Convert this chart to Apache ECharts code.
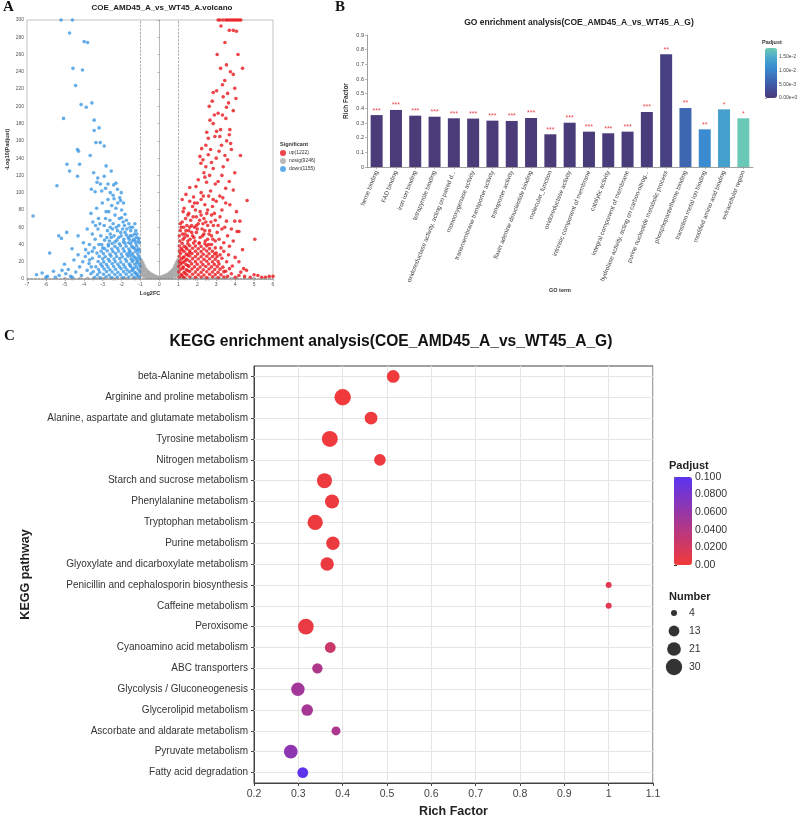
<!DOCTYPE html>
<html>
<head>
<meta charset="utf-8">
<script src="https://cdn.jsdelivr.net/npm/echarts@6/dist/echarts.min.js"></script>
<style>html,body{margin:0;padding:0;background:#fff}#main{width:801px;height:823px}</style>
</head>
<body>
<div id="main"></div>
<script>
// ---- A: volcano points [log2FC, -log10(padj)] ----
var volcanoUp = [
  [3.1,300],[3.2,300],[3.35,300],[3.5,300],[3.6,300],[3.7,300],[3.8,300],[3.9,300],[4.0,300],[4.1,300],[4.2,300],[4.3,300],
  [3.25,293],[3.69,288],[3.9,288],[4.07,287],[3.46,274],[3.23,244],[3.54,248],[4.39,244],[3.9,237],[3.33,225],[3.98,221],
  [3.02,218],[2.84,216],[3.37,211],[4.04,209],[2.79,206],[2.63,200],[3.65,204],[3.54,199],[3.1,192],[3.33,190],[3.9,195],
  [2.67,184],[2.84,180],[3.51,186],[3.02,171],[3.23,173],[3.72,173],[2.58,163],[2.93,165],[3.19,165],[3.69,167],[2.23,151],
  [3.28,155],[3.76,157],[2.14,142],[2.58,144],[3.46,143],[4.28,143],[2.19,134],[2.35,123],[2.84,128],[3.37,130],[3.6,138],
  [1.93,107],[2.49,112],[3.1,113],[3.98,123],[4.63,91],[3.69,113],[3.9,103],[4.07,78],[5.04,46],[3.98,67],[3.54,67],
  [4.25,67],[4.39,34],[3.72,86],[3.19,96],[2.84,92],[2.3,138],[2.45,130],[2.7,150],[3.0,140],[3.15,148],[2.4,118],
  [2.65,120],[2.95,110],[3.3,120],[3.5,105],[2.2,100],[2.05,115],[2.75,135],[3.55,160],[2.5,170],[3.8,150],[3.45,230],
  [3.05,260],[2.9,190],[3.6,215],[4.15,260],[3.75,240],[2.45,155],
  [1.4,98],[1.6,90],[1.8,95],[2.0,88],[2.2,92],[2.4,86],[2.6,96],[2.8,84],[3.0,90],[3.3,80],[3.5,88],[1.3,82],[1.55,76],
  [1.75,84],[1.95,72],[2.15,78],[2.35,70],[2.55,80],[2.75,74],[2.95,68],[3.2,72],[3.45,60],[3.8,58],[4.1,55],[4.2,55],
  [1.2,66],[1.45,62],[1.65,68],[1.85,60],[2.05,64],[2.25,58],[2.45,66],[2.65,56],[2.85,62],[3.05,54],[3.3,58],[3.6,50],
  [3.9,44],[1.1,56],[1.35,52],[1.55,56],[1.75,50],[1.95,54],[2.15,48],[2.35,52],[2.55,46],[2.75,50],[2.95,44],[3.15,46],
  [3.4,42],[3.7,38],[4.0,25],[4.2,20],[3.85,15],[4.45,12],[1.25,46],[1.5,44],[2.1,42],[2.6,40],[3.25,36],[1.15,60],
  [1.7,62],[2.3,64],[2.9,76],[3.35,94],[1.9,80],[2.7,102],[1.6,106],[2.5,76],
  [1.08,44],[1.32,48],[1.62,46],[1.88,44],[2.42,44],[2.82,46],[1.22,52],[1.48,50],[1.82,48],[2.28,50],[2.62,52],[1.05,50],
  [1.4,56],[1.7,54],[2.0,58],[2.4,56],[1.28,60],[1.6,60],[1.95,62],[2.55,62],[1.1,64],[1.38,70],[1.78,72],[2.12,68],
  [1.5,74],[2.2,74],[1.25,78],[1.85,88],[2.32,96],[1.2,92],[2.72,66],[3.1,62],[3.0,30],[3.2,28],[3.3,24],[3.4,32],
  [2.95,36],[2.75,40],
  [1.04,2.1],[1.3,1.7],[1.6,2.4],[1.9,1.9],[2.2,2.2],[2.5,1.6],[2.8,2.5],[3.1,1.8],[3.4,2.2],
  [1.15,5.2],[1.45,4.8],[1.75,5.5],[2.05,5.0],[2.35,4.7],[2.65,5.4],[2.95,5.1],[3.25,4.9],
  [1.03,8.2],[1.3,7.8],[1.6,8.6],[1.9,8.0],[2.2,7.7],[2.5,8.4],[2.8,8.1],[3.1,7.9],[3.4,8.5],
  [1.12,11.3],[1.42,10.8],[1.72,11.6],[2.02,11.1],[2.32,10.7],[2.62,11.5],[2.92,11.0],[3.2,11.4],
  [1.02,14.4],[1.25,13.9],[1.55,14.6],[1.85,14.1],[2.15,13.8],[2.45,14.5],[2.75,14.0],[3.05,14.3],[3.35,13.7],
  [1.1,17.2],[1.4,16.8],[1.7,17.5],[2.0,17.0],[2.3,16.6],[2.6,17.4],[2.9,16.9],[3.15,17.3],
  [1.05,20.4],[1.3,19.8],[1.6,20.6],[1.9,20.1],[2.2,19.7],[2.5,20.5],[2.8,20.0],[3.1,20.3],
  [1.15,23.3],[1.45,22.8],[1.75,23.6],[2.05,23.1],[2.35,22.7],[2.65,23.4],[2.95,23.0],
  [1.04,26.3],[1.3,25.8],[1.6,26.6],[1.9,26.1],[2.2,25.7],[2.5,26.4],[2.8,26.0],[3.05,26.2],
  [1.12,29.4],[1.42,28.8],[1.72,29.6],[2.02,29.1],[2.32,28.7],[2.62,29.3],[2.92,29.0],
  [1.05,32.3],[1.3,31.8],[1.6,32.6],[1.9,32.1],[2.2,31.7],[2.5,32.4],[2.8,32.0],
  [1.15,35.3],[1.45,34.8],[1.75,35.6],[2.05,35.1],[2.35,34.7],[2.65,35.2],
  [1.05,38.3],[1.3,37.8],[1.6,38.6],[1.9,38.1],[2.2,37.7],[2.5,38.4],
  [1.2,41.3],[1.5,40.8],[1.8,41.6],[2.1,41.1],[2.4,40.7],
  [1.2,3.6],[1.35,6.5],[1.5,9.6],[1.25,12.6],[1.5,15.7],[1.2,18.7],[1.4,21.7],[1.25,24.6],[1.5,27.6],[1.6,30.6],[1.2,33.6],[1.4,36.6],
  [3.6,3],[3.8,6],[4.0,2],[4.2,4],[4.5,3],[4.8,2],[5.0,5],[5.2,4],[5.4,2],[5.6,2],[5.8,3],[6.0,3],[4.6,10],[4.3,8],[3.7,12],
  [3.55,20],[3.65,28],[3.5,9]
];
var volcanoDown = [
  [-5.2,300],[-4.6,300],[-4.75,285],[-3.98,275],[-3.8,274],[-4.57,244],[-4.07,242],[-4.43,224],[-4.14,202],[-3.87,199],
  [-3.57,204],[-5.07,186],[-3.45,184],[-3.19,175],[-3.45,172],[-3.36,158],[-3.13,158],[-2.92,154],[-4.33,150],[-4.28,148],
  [-3.66,143],[-4.89,133],[-4.22,133],[-2.82,131],[-4.75,125],[-4.33,119],[-3.48,123],[-3.26,117],[-2.92,119],[-2.55,125],
  [-5.42,108],[-3.3,112],[-3.12,110],[-2.72,110],[-2.42,109],[-2.3,111],[-2.02,100],[-2.22,104],[-3.6,104],[-3.4,101],
  [-2.85,105],[-2.6,100],[-3.05,102],[-2.45,97],[-2.1,94],[-1.9,88],
  [-6.68,73],[-5.32,50],[-5.18,47],[-4.9,54],[-4.62,35],[-4.3,50],[-4.02,42],[-3.82,58],[-3.62,76],[-3.52,66],[-3.32,82],
  [-3.22,70],[-3.02,88],[-2.92,62],[-2.82,78],[-2.72,92],[-2.62,68],[-2.52,85],[-2.4,93],[-2.35,74],[-2.28,60],[-2.2,88],
  [-2.12,70],[-2.0,80],[-1.92,66],[-1.82,75],[-1.72,58],[-1.62,64],[-1.52,56],[-1.42,60],[-1.32,52],[-1.22,48],[-1.12,44],
  [-2.6,52],[-2.9,45],[-3.1,50],[-3.4,46],[-3.7,40],[-2.22,56],[-2.02,50],[-1.82,54],[-2.45,64],[-2.75,56],[-3.25,58],
  [-2.05,91],[-2.15,62],[-1.95,58],[-2.55,48],[-1.65,48],[-1.45,44],[-2.85,70],[-3.55,52],[-2.35,43],[-2.65,44],[-1.75,68],
  [-2.3,82],[-2.68,78],[-3.15,64],[-1.55,50],[-1.25,56],[-1.88,46],[-2.48,58],[-3.05,40],[-3.38,62],[-2.0,71],[-1.35,46],
  [-1.06,42],[-2.78,48],[-2.15,48],[-1.62,42],
  [-1.1,47],[-1.3,44],[-1.6,46],[-1.9,43],[-2.25,45],[-1.45,50],[-1.75,51],[-2.05,54],[-1.2,52],[-1.55,60],[-2.4,50],
  [-2.7,40],[-3.0,36],[-3.3,30],[-3.45,36],[-3.2,40],[-3.6,14],[-3.7,22],[-3.55,32],[-1.3,64],[-1.85,62],[-2.6,60],
  [-6.5,5],[-6.2,7],[-5.92,3],[-5.8,30],[-5.6,9],[-5.3,4],[-5.02,17],[-4.82,11],[-4.7,3],[-4.52,22],[-4.42,8],[-4.22,14],
  [-4.12,4],[-3.92,26],[-3.82,10],[-3.72,18],[-3.62,6],[-3.9,34],[-4.6,2],[-5.5,2],[-4.95,6],[-4.3,28],[-3.75,30],[-4.05,20],
  [-3.55,24],[-6.0,2],[-5.15,10],
  [-3.42,2],[-3.12,1.5],[-2.82,2.5],[-2.52,1.8],[-2.22,2.2],[-1.92,1.6],[-1.62,2.4],[-1.32,1.9],[-1.06,2.1],
  [-3.28,5],[-2.96,5.5],[-2.66,4.6],[-2.36,5.2],[-2.06,4.8],[-1.76,5.6],[-1.46,4.9],[-1.18,5.3],
  [-3.5,8.4],[-3.16,7.8],[-2.8,8.6],[-2.5,8.1],[-2.2,7.7],[-1.9,8.5],[-1.6,8.2],[-1.3,7.9],[-1.04,8.3],
  [-3.22,11],[-2.92,11.6],[-2.62,10.8],[-2.32,11.3],[-2.02,11.8],[-1.72,10.6],[-1.42,11.4],[-1.12,11.1],
  [-3.36,14.2],[-3.02,14.6],[-2.72,13.8],[-2.42,14.4],[-2.12,14.1],[-1.82,13.7],[-1.52,14.5],[-1.22,14.0],[-1.03,14.8],
  [-3.1,17.2],[-2.8,16.8],[-2.5,17.6],[-2.2,17.1],[-1.9,16.7],[-1.6,17.4],[-1.3,17.0],[-1.08,17.5],
  [-3.24,20.3],[-2.94,19.8],[-2.64,20.6],[-2.34,20.1],[-2.04,19.6],[-1.74,20.4],[-1.44,20.0],[-1.16,20.5],
  [-3.0,23.4],[-2.7,22.8],[-2.4,23.2],[-2.1,23.6],[-1.8,22.9],[-1.5,23.3],[-1.2,22.7],[-1.03,23.5],
  [-3.18,26.2],[-2.86,25.8],[-2.56,26.5],[-2.26,26.0],[-1.96,25.7],[-1.66,26.4],[-1.36,26.1],[-1.1,25.9],
  [-2.96,29.3],[-2.62,28.7],[-2.32,29.5],[-2.02,29.0],[-1.72,28.8],[-1.42,29.4],[-1.14,29.1],
  [-3.08,32.1],[-2.76,32.6],[-2.46,31.8],[-2.16,32.3],[-1.86,32.0],[-1.56,32.5],[-1.26,31.9],[-1.05,32.4],
  [-2.9,35.2],[-2.52,34.8],[-2.22,35.5],[-1.92,35.0],[-1.62,34.7],[-1.32,35.4],[-1.1,35.1],
  [-2.7,38.2],[-2.36,37.8],[-2.06,38.5],[-1.76,38.0],[-1.46,37.7],[-1.2,38.3],
  [-2.5,41.2],[-2.12,40.8],[-1.82,41.5],[-1.52,40.9],[-1.24,41.3],
  [-1.15,3.5],[-1.25,6.5],[-1.45,9.5],[-1.35,12.6],[-1.55,15.8],[-1.2,18.8],[-1.4,21.8],[-1.28,24.6],[-1.52,27.6],
  [-1.6,30.6],[-1.18,33.6],[-1.4,36.6]
];
var volcanoNosig = [
  [-0.99,22],[-0.97,19],[-0.95,21],[-0.93,17],[-0.9,15],[-0.88,19],[-0.85,13],[-0.82,16],[-0.8,11],[-0.77,13],[-0.74,9],
  [-0.7,11],[-0.66,8],[-0.62,9],[-0.58,6.5],[-0.54,7.5],[-0.5,5.2],[-0.45,6],[-0.4,4.2],[-0.35,4.8],[-0.3,3.4],[-0.25,3.8],
  [-0.2,2.8],[-0.15,2.4],[-0.1,2.2],[-0.05,1.8],[0,1.6],[0.05,1.9],[0.1,2.1],[0.15,2.6],[0.2,2.9],[0.25,3.6],[0.3,3.3],
  [0.35,4.6],[0.4,4.4],[0.45,5.8],[0.5,5.4],[0.54,7.2],[0.58,6.8],[0.62,8.8],[0.66,8.2],[0.7,10.6],[0.74,9.4],[0.77,12.6],
  [0.8,11.4],[0.82,15.6],[0.85,13.4],[0.88,18.4],[0.9,15.4],[0.93,17.6],[0.95,20.6],[0.97,18.8],[0.99,22.4],
  [-0.96,12],[-0.92,9],[-0.86,7],[-0.8,5.5],[-0.72,4.5],[-0.64,3.6],[-0.55,2.8],[-0.45,2],[-0.35,1.6],[-0.25,1.2],[-0.12,0.9],
  [0.12,0.9],[0.25,1.2],[0.35,1.6],[0.45,2],[0.55,2.8],[0.64,3.6],[0.72,4.5],[0.8,5.5],[0.86,7],[0.92,9],[0.96,12],
  [-0.98,8],[-0.94,5],[-0.88,3.5],[-0.78,2.5],[-0.68,1.8],[-0.58,1.2],[-0.48,0.8],[0.48,0.8],[0.58,1.2],[0.68,1.8],
  [0.78,2.5],[0.88,3.5],[0.94,5],[0.98,8],[-0.97,15.5],[0.97,15],[-0.93,12.5],[0.93,12.5],[-0.99,4],[0.99,4],[-0.84,10],
  [0.84,10],[-0.7,6.5],[0.7,6.5],[-0.6,4.4],[0.6,4.4],
  [-4.2,0.5],[-3.8,0.9],[-3.5,0.4],[-3.2,1],[-2.9,0.6],[-2.6,1.1],[-2.3,0.4],[-2.0,0.8],[-1.7,0.5],[-1.4,1.0],[-1.15,0.6],
  [1.15,0.7],[1.4,0.3],[1.7,1.0],[2.0,0.5],[2.3,0.9],[2.6,0.4],[2.9,1.0],[3.2,0.6],[3.5,0.9],[3.8,0.4],[4.1,0.8],[4.5,0.5],
  [-3.0,0.2],[-2.45,0.2],[-1.85,1.2],[-1.3,0.3],[1.3,1.2],[1.9,0.2],[2.45,0.2],[3.05,0.3],[-5,0.6],[-4.6,0.3],[5,0.4]
];
var volcanoNames = ['up(1222)', 'nosig(9246)', 'down(1155)'];

// ---- B: GO enrichment bars ----
var goTerms = ['heme binding', 'FAD binding', 'iron ion binding', 'tetrapyrrole binding',
  'oxidoreductase activity, acting on paired d...', 'monooxygenase activity',
  'transmembrane transporter activity', 'transporter activity', 'flavin adenine dinucleotide binding',
  'molecular_function', 'oxidoreductase activity', 'intrinsic component of membrane', 'catalytic activity',
  'integral component of membrane', 'hydrolase activity, acting on carbon-nitrog...',
  'purine nucleotide metabolic process', 'phosphopantetheine binding', 'transition metal ion binding',
  'modified amino acid binding', 'extracellular region'];
var goRich = [0.354, 0.389, 0.350, 0.343, 0.332, 0.330, 0.316, 0.314, 0.334, 0.223,
  0.302, 0.241, 0.230, 0.241, 0.375, 0.768, 0.402, 0.257, 0.393, 0.332];
var goPadj = [0.0001, 0.0001, 0.0001, 0.0001, 0.0001, 0.0001, 0.0001, 0.0001, 0.0001, 0.0001,
  0.0002, 0.0002, 0.0002, 0.0002, 0.0004, 0.0012, 0.0066, 0.0110, 0.0138, 0.0180];
var goStars = ['***', '***', '***', '***', '***', '***', '***', '***', '***', '***',
  '***', '***', '***', '***', '***', '**', '**', '**', '*', '*'];

// ---- C: KEGG enrichment bubbles ----
var keggTerms = ['beta-Alanine metabolism', 'Arginine and proline metabolism',
  'Alanine, aspartate and glutamate metabolism', 'Tyrosine metabolism', 'Nitrogen metabolism',
  'Starch and sucrose metabolism', 'Phenylalanine metabolism', 'Tryptophan metabolism', 'Purine metabolism',
  'Glyoxylate and dicarboxylate metabolism', 'Penicillin and cephalosporin biosynthesis', 'Caffeine metabolism',
  'Peroxisome', 'Cyanoamino acid metabolism', 'ABC transporters', 'Glycolysis / Gluconeogenesis',
  'Glycerolipid metabolism', 'Ascorbate and aldarate metabolism', 'Pyruvate metabolism', 'Fatty acid degradation'];
var keggRich = [0.514, 0.400, 0.464, 0.371, 0.484, 0.359, 0.376, 0.338, 0.378, 0.365,
  1.0, 1.0, 0.317, 0.372, 0.343, 0.299, 0.320, 0.385, 0.283, 0.310];
var keggCount = [18, 30, 18, 28, 15, 25, 22, 26, 20, 20, 4, 4, 27, 13, 12, 20, 15, 9, 21, 13];
var keggPadj = [0.001, 0.001, 0.002, 0.002, 0.003, 0.003, 0.003, 0.003, 0.004, 0.004,
  0.012, 0.012, 0.005, 0.026, 0.044, 0.052, 0.050, 0.046, 0.066, 0.097];
var keggPadjTicks = ['0.00', '0.0200', '0.0400', '0.0600', '0.0800', '0.100'];
var sizeLegend = [4, 13, 21, 30];

var FONT = 'Liberation Sans';
var chart = echarts.init(document.getElementById('main'), null, { width: 801, height: 823 });

function bubble(n) { return 3 * Math.sqrt(n); }
var small = { fontSize: 5, color: '#555', fontFamily: FONT };
var letter = { fontFamily: 'Liberation Serif', fontWeight: 'bold', fontSize: 15, color: '#111' };
var dot = 3.6;

var option = {
  animation: false,
  backgroundColor: '#fff',
  textStyle: { fontFamily: FONT },
  title: [
    { text: 'A', left: 3, top: 0, padding: 0, textStyle: letter },
    { text: 'B', left: 335, top: 0, padding: 0, textStyle: letter },
    { text: 'C', left: 4, top: 329, padding: 0, textStyle: letter },
    { text: 'COE_AMD45_A_vs_WT45_A.volcano', left: 162, top: 4, padding: 0, textAlign: 'center',
      textStyle: { fontSize: 8, fontWeight: 'bold', color: '#222', fontFamily: FONT } },
    { text: 'GO enrichment analysis(COE_AMD45_A_vs_WT45_A_G)', left: 579, top: 18, padding: 0, textAlign: 'center',
      textStyle: { fontSize: 8.5, fontWeight: 'bold', color: '#222', fontFamily: FONT } },
    { text: 'KEGG enrichment analysis(COE_AMD45_A_vs_WT45_A_G)', left: 391, top: 334, padding: 0, textAlign: 'center',
      textStyle: { fontSize: 15.6, fontWeight: 'bold', color: '#111', fontFamily: FONT } },
    { text: 'Significant', left: 280, top: 141, padding: 0,
      textStyle: { fontSize: 5.5, fontWeight: 'bold', color: '#333', fontFamily: FONT } },
    { text: 'Padjust', left: 762, top: 39, padding: 0,
      textStyle: { fontSize: 5.5, fontWeight: 'bold', color: '#333', fontFamily: FONT } },
    { text: 'Padjust', left: 669, top: 460, padding: 0,
      textStyle: { fontSize: 11, fontWeight: 'bold', color: '#222', fontFamily: FONT } },
    { text: 'Number', left: 669, top: 591, padding: 0,
      textStyle: { fontSize: 11, fontWeight: 'bold', color: '#222', fontFamily: FONT } }
  ],
  legend: {
    data: volcanoNames, orient: 'vertical', left: 280, top: 150, padding: 0,
    itemWidth: 6, itemHeight: 6, itemGap: 2, icon: 'circle', selectedMode: false,
    textStyle: { fontSize: 5, color: '#333', fontFamily: FONT, padding: [0, 0, 0, -2] }
  },
  grid: [
    { left: 27, top: 20, width: 246, height: 259, show: true, borderColor: '#999', borderWidth: 0.6 },
    { left: 367, top: 35, width: 386, height: 132 },
    { left: 254, top: 366, width: 399, height: 425, show: true, borderColor: '#444', borderWidth: 1 },
    { left: 765, top: 48, width: 12, height: 50 },
    { left: 674, top: 477, width: 18, height: 88 },
    { left: 665, top: 604, width: 18, height: 72 }
  ],
  xAxis: [
    { gridIndex: 0, type: 'value', min: -7, max: 6, interval: 1,
      name: 'Log2FC', nameLocation: 'middle', nameGap: 11,
      nameTextStyle: { fontSize: 5.5, fontWeight: 'bold', color: '#333' },
      axisLine: { show: true, lineStyle: { color: '#888', width: 0.6 } },
      axisTick: { show: true, length: 2, lineStyle: { color: '#888', width: 0.6 } },
      axisLabel: Object.assign({ margin: 3 }, small), splitLine: { show: false } },
    { gridIndex: 1, type: 'category', data: goTerms,
      name: 'GO term', nameLocation: 'middle', nameGap: 120,
      nameTextStyle: { fontSize: 5.5, fontWeight: 'bold', color: '#333' },
      axisLine: { show: true, lineStyle: { color: '#888', width: 0.8 } },
      axisTick: { show: true, length: 2, alignWithLabel: true, lineStyle: { color: '#888', width: 0.6 } },
      axisLabel: { interval: 0, rotate: 68, fontSize: 6.2, color: '#444', margin: 4 } },
    { gridIndex: 2, type: 'value', min: 0.2, max: 1.1, interval: 0.1,
      name: 'Rich Factor', nameLocation: 'middle', nameGap: 22,
      nameTextStyle: { fontSize: 12.5, fontWeight: 'bold', color: '#222' },
      axisLine: { show: true, lineStyle: { color: '#444' } },
      axisTick: { show: true, length: 3, lineStyle: { color: '#444' } },
      axisLabel: { fontSize: 10.5, color: '#444', margin: 6 },
      splitLine: { show: true, lineStyle: { color: '#e5e5e5' } } },
    { gridIndex: 3, type: 'value', show: false },
    { gridIndex: 4, type: 'value', show: false },
    { gridIndex: 5, type: 'value', min: -1, max: 1, show: false }
  ],
  yAxis: [
    { gridIndex: 0, type: 'value', min: 0, max: 300, interval: 20,
      name: '-Log10(Padjust)', nameLocation: 'middle', nameGap: 17,
      nameTextStyle: { fontSize: 5.5, fontWeight: 'bold', color: '#333' },
      axisLine: { show: true, lineStyle: { color: '#888', width: 0.6 } },
      axisTick: { show: true, length: 2, lineStyle: { color: '#888', width: 0.6 } },
      axisLabel: Object.assign({ margin: 3 }, small), splitLine: { show: false } },
    { gridIndex: 1, type: 'value', min: 0, max: 0.9, interval: 0.1,
      name: 'Rich Factor', nameLocation: 'middle', nameGap: 17,
      nameTextStyle: { fontSize: 6.5, fontWeight: 'bold', color: '#333' },
      axisLine: { show: true, lineStyle: { color: '#888', width: 0.8 } },
      axisTick: { show: true, length: 2, lineStyle: { color: '#888', width: 0.6 } },
      axisLabel: { fontSize: 5.5, color: '#444', margin: 3 }, splitLine: { show: false } },
    { gridIndex: 2, type: 'category', data: keggTerms, inverse: true,
      name: 'KEGG pathway', nameLocation: 'middle', nameGap: 222,
      nameTextStyle: { fontSize: 12.5, fontWeight: 'bold', color: '#222' },
      axisLine: { show: true, lineStyle: { color: '#444' } },
      axisTick: { show: true, length: 3, alignWithLabel: true, lineStyle: { color: '#444' } },
      axisLabel: { fontSize: 10, color: '#333', margin: 6 } },
    { gridIndex: 2, type: 'category', data: keggTerms, inverse: true,
      axisLine: { show: false }, axisLabel: { show: false },
      axisTick: { show: true, inside: true, length: 399, alignWithLabel: true, lineStyle: { color: '#e5e5e5' } } },
    { gridIndex: 3, type: 'value', position: 'right', min: 0, max: 0.0183, interval: 0.005,
      axisLine: { show: false }, splitLine: { show: false },
      axisTick: { show: true, length: 2, lineStyle: { color: '#666', width: 0.6 } },
      axisLabel: { fontSize: 5, color: '#444', margin: 2, showMaxLabel: false,
        formatter: function (v) { return v.toExponential(2); } } },
    { gridIndex: 4, type: 'value', position: 'right', min: 0, max: 0.1, interval: 0.02,
      axisLine: { show: false }, splitLine: { show: false },
      axisTick: { show: true, length: 3, lineStyle: { color: '#333' } },
      axisLabel: { fontSize: 10.5, color: '#333', margin: 3,
        formatter: function (v, i) { return keggPadjTicks[i]; } } },
    { gridIndex: 5, type: 'category', data: sizeLegend.map(String), inverse: true, position: 'right',
      axisLine: { show: false }, axisTick: { show: false },
      axisLabel: { fontSize: 10.5, color: '#333', margin: 6 } }
  ],
  visualMap: [
    { type: 'continuous', seriesIndex: 3, dimension: 2, min: 0, max: 0.0183,
      inRange: { color: ['#4b3a78', '#40509c', '#3d6db8', '#3a8bd0', '#48a6cc', '#6dcbb5'] },
      left: 765, top: 48, itemWidth: 12, itemHeight: 50, padding: 0, calculable: false, text: null,
      textStyle: { fontSize: 1, color: 'rgba(0,0,0,0)' } },
    { type: 'continuous', seriesIndex: 4, dimension: 3, min: 0, max: 0.1,
      inRange: { color: ['#f23a3a', '#5a34f0'] },
      left: 674, top: 477, itemWidth: 18, itemHeight: 88, padding: 0, calculable: false, text: null,
      textStyle: { fontSize: 1, color: 'rgba(0,0,0,0)' } }
  ],
  series: [
    { type: 'scatter', name: volcanoNames[1], xAxisIndex: 0, yAxisIndex: 0, data: volcanoNosig,
      symbolSize: dot, itemStyle: { color: '#a9a9a9' }, silent: true,
      markLine: { silent: true, symbol: ['none', 'none'], label: { show: false },
        lineStyle: { type: 'dashed', color: '#777', width: 0.6 },
        data: [{ xAxis: -1 }, { xAxis: 1 }, { yAxis: 1.3 }] } },
    { type: 'scatter', name: volcanoNames[2], xAxisIndex: 0, yAxisIndex: 0, data: volcanoDown,
      symbolSize: dot, itemStyle: { color: '#3d98e3' }, silent: true },
    { type: 'scatter', name: volcanoNames[0], xAxisIndex: 0, yAxisIndex: 0, data: volcanoUp,
      symbolSize: dot, itemStyle: { color: '#e8161b' }, silent: true },
    { type: 'bar', xAxisIndex: 1, yAxisIndex: 1, barWidth: 12,
      data: goTerms.map(function (t, i) { return [t, goRich[i], goPadj[i]]; }),
      encode: { x: 0, y: 1 },
      label: { show: true, position: 'top', distance: 1, color: '#e8474f', fontSize: 7,
        formatter: function (p) { return goStars[p.dataIndex]; } } },
    { type: 'scatter', xAxisIndex: 2, yAxisIndex: 2,
      data: keggTerms.map(function (t, i) { return [keggRich[i], t, keggCount[i], keggPadj[i]]; }),
      encode: { x: 0, y: 1 },
      symbolSize: function (d) { return bubble(d[2]); },
      itemStyle: { opacity: 1 } },
    { type: 'scatter', xAxisIndex: 5, yAxisIndex: 6,
      data: sizeLegend.map(function (n) { return [0, String(n), n]; }),
      encode: { x: 0, y: 1 },
      symbolSize: function (d) { return bubble(d[2]); },
      itemStyle: { color: '#000' }, silent: true }
  ]
};

option && chart.setOption(option);
</script>
</body>
</html>
